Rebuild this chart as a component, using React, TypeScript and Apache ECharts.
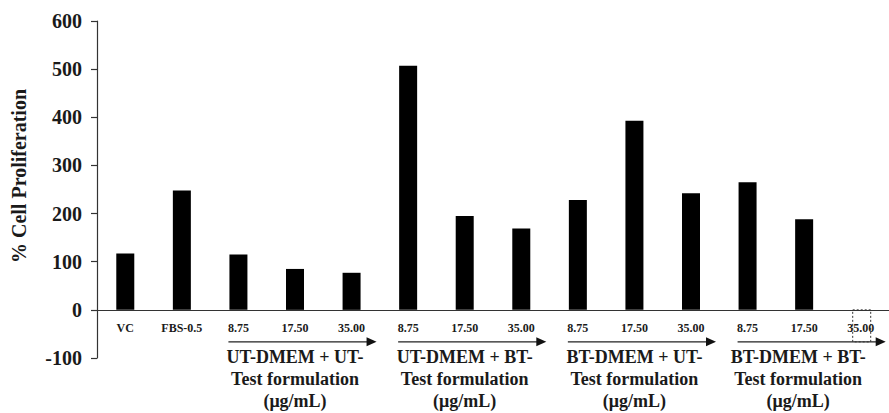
import React, { useEffect, useRef } from "react";
import * as echarts from "echarts";

const categories = [
  "VC", "FBS-0.5",
  "8.75", "17.50", "35.00",
  "8.75", "17.50", "35.00",
  "8.75", "17.50", "35.00",
  "8.75", "17.50", "35.00",
];
const values = [117, 248, 115, 85, 77, 507, 195, 169, 228, 393, 242, 265, 188, 0];
const yTicks = { min: -100, max: 600, interval: 100 };
const groupLabels = [
  ["UT-DMEM + UT-", "Test formulation", "(μg/mL)"],
  ["UT-DMEM + BT-", "Test formulation", "(μg/mL)"],
  ["BT-DMEM + UT-", "Test formulation", "(μg/mL)"],
  ["BT-DMEM + BT-", "Test formulation", "(μg/mL)"],
];
const groupStart = [2, 5, 8, 11];
const groupEnd = [4, 7, 10, 13];

const FONT = "Liberation Serif";
const TXT = "#1a1a1a";

export default function App() {
  const ref = useRef<HTMLDivElement>(null);
  useEffect(() => {
    document.body.style.margin = "0";
    const chart = echarts.init(ref.current!, null, { renderer: "svg" });
    chart.setOption({
      animation: false,
      textStyle: { fontFamily: FONT },
      grid: { left: 97, right: -10, top: 21, bottom: 55, containLabel: false },
      xAxis: {
        type: "category",
        data: categories,
        axisLine: { onZero: true, lineStyle: { color: "#333", width: 1.2 } },
        axisTick: { show: false },
        axisLabel: { show: false },
      },
      yAxis: {
        type: "value",
        min: yTicks.min,
        max: yTicks.max,
        interval: yTicks.interval,
        splitLine: { show: false },
        axisLine: { show: true, lineStyle: { color: "#333", width: 1.2 } },
        axisTick: { show: true, length: 6, lineStyle: { color: "#333", width: 1.2 } },
        axisLabel: {
          margin: 15,
          fontFamily: FONT,
          fontWeight: "bold",
          fontSize: 20,
          color: TXT,
        },
      },
      series: [
        {
          type: "bar",
          data: values,
          barWidth: 18,
          itemStyle: { color: "#000" },
        },
      ],
    });

    const px = (i: number) => chart.convertToPixel({ xAxisIndex: 0 }, i) as number;
    const y0 = chart.convertToPixel({ yAxisIndex: 0 }, 0) as number;
    const graphics: any[] = [];
    graphics.push({
      type: "text",
      x: 19,
      y: 176,
      rotation: Math.PI / 2,
      style: {
        text: "% Cell Proliferation",
        fontFamily: FONT,
        fontWeight: "bold",
        fontSize: 20,
        fill: TXT,
        align: "center",
        verticalAlign: "middle",
      },
    });
    categories.forEach((c, i) => {
      graphics.push({
        type: "text",
        x: px(i),
        y: y0 + 18,
        style: {
          text: c,
          fontFamily: FONT,
          fontWeight: "bold",
          fontSize: 12,
          fill: TXT,
          align: "center",
          verticalAlign: "middle",
        },
      });
    });
    const arrowY = y0 + 32;
    groupStart.forEach((s, g) => {
      const x1 = px(s) - 10;
      const x2 = px(groupEnd[g]) + 25;
      graphics.push({
        type: "line",
        shape: { x1, y1: arrowY, x2: x2 - 8, y2: arrowY },
        style: { stroke: "#222", lineWidth: 1.3 },
      });
      graphics.push({
        type: "polygon",
        shape: { points: [[x2 - 10, arrowY - 4.5], [x2, arrowY], [x2 - 10, arrowY + 4.5]] },
        style: { fill: "#111" },
      });
      const cx = (px(s) + px(groupEnd[g])) / 2 - (g === 3 ? 6 : 0);
      groupLabels[g].forEach((line, k) => {
        graphics.push({
          type: "text",
          x: cx,
          y: y0 + 47 + k * 22,
          style: {
            text: line,
            fontFamily: FONT,
            fontWeight: "bold",
            fontSize: 18,
            fill: TXT,
            align: "center",
            verticalAlign: "middle",
          },
        });
      });
    });
    const last = px(categories.length - 1);
    graphics.push({
      type: "rect",
      shape: { x: last - 8, y: y0, width: 18, height: 32 },
      style: { fill: "none", stroke: "#333", lineWidth: 1, lineDash: [2, 2] },
    });
    chart.setOption({ graphic: graphics });
    return () => chart.dispose();
  }, []);
  return <div ref={ref} style={{ width: 889, height: 413 }} />;
}
